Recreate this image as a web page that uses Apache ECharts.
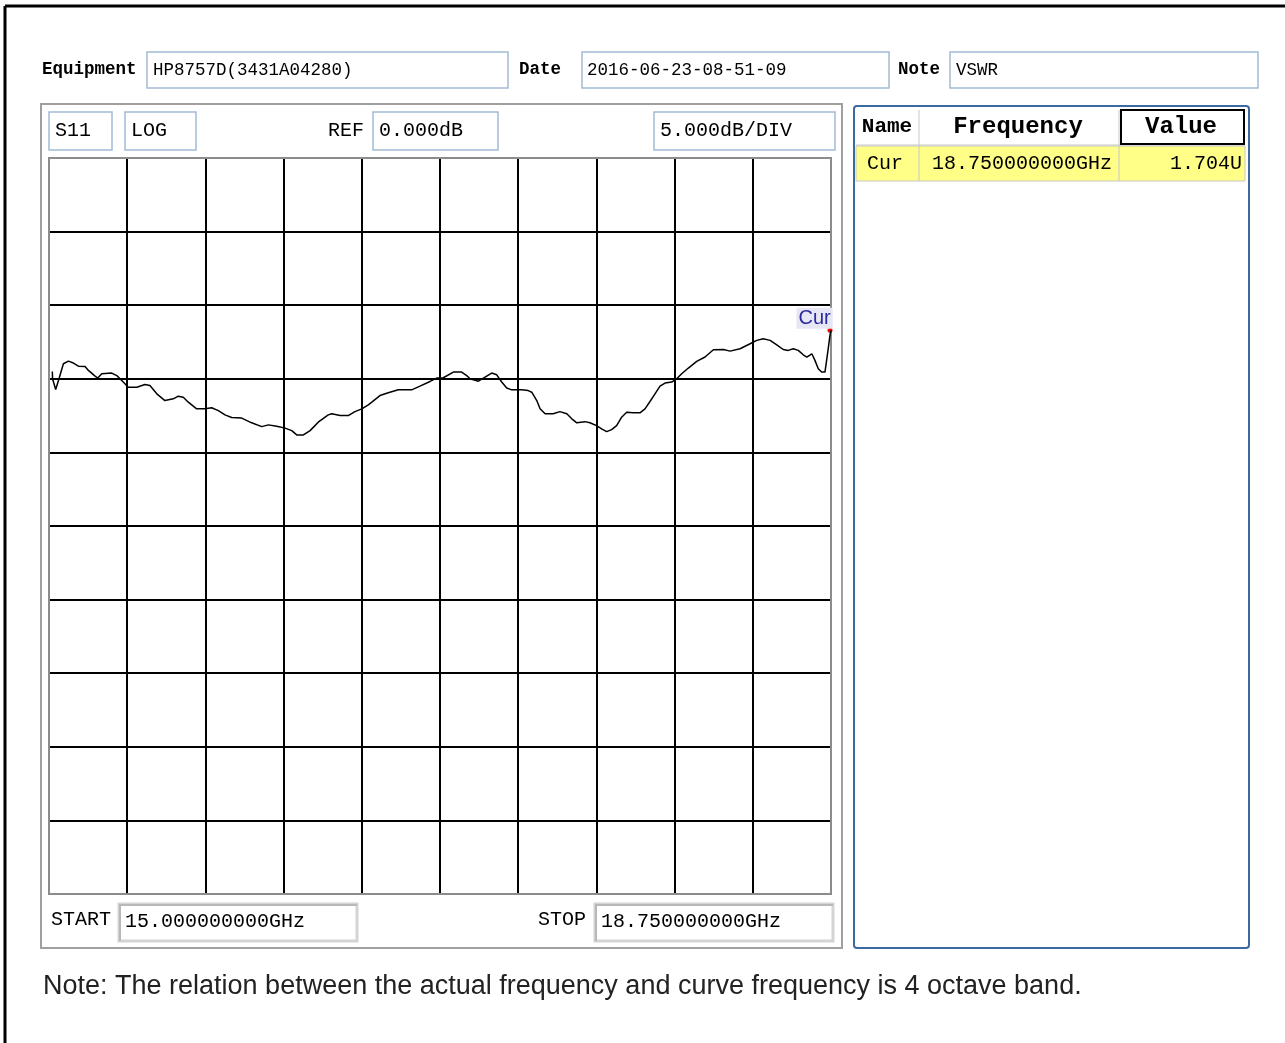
<!DOCTYPE html>
<html>
<head>
<meta charset="utf-8">
<script src="https://cdn.jsdelivr.net/npm/echarts@6/dist/echarts.min.js"></script>
<style>
html,body{margin:0;padding:0;background:#fff;}
#chart{width:1285px;height:1043px;}
</style>
</head>
<body>
<div id="chart"></div>
<script>
// ---- data ----
var freqGHz = [15.016,15.017,15.032,15.048,15.069,15.093,15.117,15.141,15.173,15.189,15.221,15.234,15.253,15.301,15.325,15.356,15.380,15.421,15.460,15.484,15.517,15.556,15.596,15.620,15.644,15.668,15.708,15.748,15.780,15.812,15.844,15.876,15.924,15.972,16.020,16.052,16.092,16.132,16.164,16.188,16.220,16.252,16.291,16.339,16.356,16.396,16.435,16.467,16.500,16.531,16.548,16.587,16.627,16.675,16.739,16.779,16.827,16.859,16.891,16.939,16.979,17.003,17.019,17.059,17.091,17.123,17.147,17.171,17.195,17.219,17.267,17.298,17.315,17.339,17.355,17.379,17.418,17.450,17.483,17.507,17.531,17.570,17.594,17.626,17.650,17.674,17.698,17.722,17.746,17.770,17.802,17.834,17.858,17.882,17.906,17.930,17.954,17.986,18.010,18.034,18.066,18.106,18.146,18.186,18.234,18.266,18.314,18.362,18.394,18.425,18.458,18.490,18.521,18.545,18.569,18.593,18.617,18.634,18.658,18.673,18.689,18.705,18.721,18.729,18.737,18.745,18.750];
var s11dB = [0.50,0.00,-0.73,0.00,1.02,1.20,1.07,0.86,0.84,0.57,0.18,0.05,0.34,0.39,0.22,-0.22,-0.57,-0.57,-0.39,-0.46,-1.02,-1.48,-1.36,-1.18,-1.25,-1.59,-2.04,-2.04,-1.97,-2.16,-2.45,-2.63,-2.67,-2.99,-3.25,-3.13,-3.22,-3.35,-3.52,-3.81,-3.81,-3.52,-2.95,-2.45,-2.38,-2.50,-2.50,-2.23,-2.04,-1.77,-1.59,-1.14,-0.95,-0.75,-0.75,-0.50,-0.18,0.05,0.07,0.46,0.46,0.22,0.00,-0.16,0.12,0.39,0.27,-0.22,-0.63,-0.75,-0.75,-0.80,-0.91,-1.48,-2.04,-2.38,-2.38,-2.23,-2.38,-2.72,-2.99,-2.91,-2.99,-3.18,-3.40,-3.59,-3.45,-3.18,-2.61,-2.27,-2.31,-2.31,-2.04,-1.54,-1.02,-0.50,-0.29,-0.22,0.00,0.34,0.73,1.18,1.48,1.97,1.99,1.88,2.04,2.38,2.61,2.72,2.61,2.31,1.99,1.93,2.04,1.93,1.63,1.48,1.70,1.25,0.68,0.46,0.46,1.25,2.09,2.95,3.29];
var markerName = 'Cur';
var markerFreq = 18.75;
var markerDB = 3.29;
var startGHz = 15.0, stopGHz = 18.75;
var refDB = 0, dbPerDiv = 5;
var headerLabels = ['Equipment','Date','Note'];
var headerValues = ['HP8757D(3431A04280)','2016-06-23-08-51-09','VSWR'];
var topBoxTexts = ['S11','LOG','0.000dB','5.000dB/DIV'];
var tableHeader = ['Name','Frequency','Value'];
var tableRow = ['Cur','18.750000000GHz','1.704U'];
var startText = '15.000000000GHz', stopText = '18.750000000GHz';
var noteText = 'Note: The relation between the actual frequency and curve frequency is 4 octave band.';

// ---- rendering ----
var chart = echarts.init(document.getElementById('chart'), null, {renderer:'canvas'});
var mono = '"Liberation Mono", "DejaVu Sans Mono", monospace';
var boxBlue = '#a3bad3';
function txt(x,y,t,size,opts){
  opts = opts||{};
  return {type:'text', z:opts.z||10, style:{x:x,y:y,text:t,font:(opts.bold?'bold ':'')+size+'px '+(opts.family||mono),fill:opts.fill||'#000',align:opts.align||'left',verticalAlign:'middle'}};
}
function box(x,y,w,h,stroke,lw,fill,z){
  return {type:'rect', z:z||5, shape:{x:x,y:y,width:w,height:h}, style:{fill:fill||'#fff',stroke:stroke,lineWidth:lw||1.5}};
}
function line(x1,y1,x2,y2,stroke,lw,z){
  return {type:'line', z:z||6, shape:{x1:x1,y1:y1,x2:x2,y2:y2}, style:{stroke:stroke,lineWidth:lw||1}};
}
var g = [];
// frame
g.push(line(5,6,1285,6,'#000',3,1));
g.push(line(5,6,5,1043,'#000',3,1));
// header row
g.push(txt(42,70,headerLabels[0],17.5,{bold:true}));
g.push(box(147,52,361,36,boxBlue,1.5));
g.push(txt(153,70,headerValues[0],17.5));
g.push(txt(519,70,headerLabels[1],17.5,{bold:true}));
g.push(box(582,52,307,36,boxBlue,1.5));
g.push(txt(587,70,headerValues[1],17.5));
g.push(txt(898,70,headerLabels[2],17.5,{bold:true}));
g.push(box(950,52,308,36,boxBlue,1.5));
g.push(txt(956,70,headerValues[2],17.5));
// left panel
g.push(box(41,104,801,844,'#a0a0a0',2,'none',2));
g.push(box(49,112,63,38,boxBlue,1.5));
g.push(txt(55,131,topBoxTexts[0],20));
g.push(box(125,112,71,38,boxBlue,1.5));
g.push(txt(131,131,topBoxTexts[1],20));
g.push(txt(328,131,'REF',20));
g.push(box(373,112,125,38,boxBlue,1.5));
g.push(txt(379,131,topBoxTexts[2],20));
g.push(box(654,112,181,38,boxBlue,1.5));
g.push(txt(660,131,topBoxTexts[3],20));
// bottom start/stop
g.push(txt(51,920,'START',20));
g.push(box(119,904,238,37,'#d4d4d4',3));
g.push(line(119,905,357,905,'#b8b8b8',2));
g.push(line(120,904,120,941,'#b8b8b8',2));
g.push(txt(125,922,startText,20));
g.push(txt(538,920,'STOP',20));
g.push(box(595,904,238,37,'#d4d4d4',3));
g.push(line(595,905,833,905,'#b8b8b8',2));
g.push(line(596,904,596,941,'#b8b8b8',2));
g.push(txt(601,922,stopText,20));
// right panel / table
g.push({type:'rect', z:2, shape:{x:854,y:106,width:395,height:842,r:3}, style:{fill:'none',stroke:'#3a6aa0',lineWidth:2}});
g.push(box(856,146,389,35,'#c8c8c8',1,'#ffff88',5));
g.push(line(919,110,919,181,'#c8c8c8',1));
g.push(line(1119,110,1119,181,'#c8c8c8',1));
g.push(line(856,145,1245,145,'#c8c8c8',1));
g.push({type:'rect', z:7, shape:{x:1121,y:110,width:123,height:34}, style:{fill:'none',stroke:'#000',lineWidth:2}});
g.push(txt(887,127,tableHeader[0],21,{bold:true,align:'center'}));
g.push(txt(1018,127,tableHeader[1],24,{bold:true,align:'center'}));
g.push(txt(1181,127,tableHeader[2],24,{bold:true,align:'center'}));
g.push(txt(885,164,tableRow[0],20,{align:'center'}));
g.push(txt(1022,164,tableRow[1],20,{align:'center'}));
g.push(txt(1242,164,tableRow[2],20,{align:'right'}));
// grid border (below the series so the marker stays visible)
g.push({type:'rect', z:1, shape:{x:49,y:158,width:782,height:736}, style:{fill:'none',stroke:'#8c8c8c',lineWidth:2}});
// cover label overflow between grid and panel border
g.push({type:'rect', z:30, shape:{x:833,y:300,width:7,height:40}, style:{fill:'#fff'}});
// note
g.push(txt(43,987,noteText,27,{family:'"Liberation Sans", Arial, sans-serif',fill:'#222'}));

var data = freqGHz.map(function(f,i){return [f,s11dB[i]];});

chart.setOption({
  animation:false,
  backgroundColor:'#fff',
  grid:{left:49, top:158, width:782, height:736, show:false},
  xAxis:{type:'value', min:startGHz, max:stopGHz, interval:(stopGHz-startGHz)/10,
    axisLine:{show:false}, axisTick:{show:false}, axisLabel:{show:false},
    splitLine:{show:true, lineStyle:{color:'#000', width:2}}},
  yAxis:{type:'value', min:refDB-7*dbPerDiv, max:refDB+3*dbPerDiv, interval:dbPerDiv,
    axisLine:{show:false}, axisTick:{show:false}, axisLabel:{show:false},
    splitLine:{show:true, lineStyle:{color:'#000', width:2}}},
  graphic:g,
  series:[{
    type:'line', data:data, showSymbol:false, smooth:false, clip:true,
    lineStyle:{color:'#000', width:1.5}, z:10,
    markPoint:{
      symbol:'circle', symbolSize:5, itemStyle:{color:'#ff0000'},
      data:[{name:markerName, coord:[markerFreq, markerDB], symbolOffset:[-1,0]}],
      label:{show:true, formatter:markerName, position:[-31,-20], color:'#2a2aa0',
        fontFamily:'"Liberation Sans", Arial, sans-serif', fontSize:20,
        backgroundColor:'#e6e6f4', padding:[1,2,0,2]}
    }
  }]
});
</script>
</body>
</html>
